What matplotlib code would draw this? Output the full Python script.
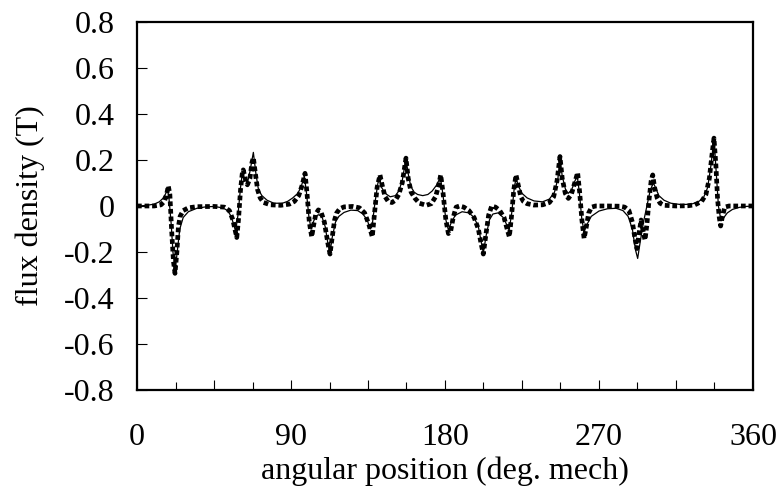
import matplotlib
matplotlib.use('Agg')
import matplotlib.pyplot as plt
from matplotlib.ticker import FixedLocator

plt.rcParams['font.family'] = ['Liberation Serif', 'DejaVu Serif']
plt.rcParams['font.size'] = 23

# thin solid trace (wider tails)
solid_deg = [0, 5, 10, 13, 15, 16.5, 17.5, 18.5, 20, 21, 22.3, 23.5, 25, 27, 30, 35, 40, 45,
             50, 53, 55, 56.5, 57.6, 59, 60.5, 61.5, 63, 64.5, 66, 68, 69.5, 71, 73, 76, 80,
             85, 88, 91, 94, 96, 97.8, 99, 100.5, 101.8, 103, 104.5, 106, 108, 110, 111.5,
             112.8, 114, 116, 118, 121, 125, 129, 132, 134.5, 136.3, 137.5, 139, 140.8, 141.8,
             143, 145, 148, 151, 153, 155, 157.2, 158.5, 160, 162, 164, 167, 170, 172.5, 175,
             177.3, 178.8, 180.5, 182, 183.5, 186, 190, 194, 197, 199.5, 201, 202.4, 204, 206,
             208, 211, 214, 216, 217.5, 219, 220.5, 221.5, 223, 225, 228, 232, 237, 241, 244,
             246, 247.2, 248.5, 250.5, 252, 254, 256, 257.3, 258.5, 260, 261.3, 263, 265.5,
             270, 275, 280, 284, 287, 289.5, 291.3, 292.6, 294, 296, 298, 300, 301.8, 303,
             305, 308, 312, 318, 324, 328, 331, 333.5, 335.5, 337.2, 338.5, 339.8, 341.3, 343,
             345, 348, 352, 356, 360]
solid_b = [0, 0.002, 0.008, 0.018, 0.032, 0.05, 0.065, 0.05, -0.08, -0.2, -0.28, -0.2, -0.1,
           -0.05, -0.025, -0.01, -0.004, -0.002,
           -0.008, -0.02, -0.045, -0.08, -0.11, -0.04, 0.08, 0.14, 0.12, 0.10, 0.15, 0.233,
           0.14, 0.07, 0.045, 0.025, 0.012,
           0.012, 0.02, 0.035, 0.055, 0.085, 0.13, 0.06, -0.05, -0.10, -0.07, -0.045, -0.038,
           -0.045, -0.09, -0.16,
           -0.205, -0.14, -0.07, -0.045, -0.028, -0.018, -0.02, -0.035, -0.06, -0.10, -0.08,
           0.01, 0.10, 0.12,
           0.08, 0.055, 0.04, 0.045, 0.065, 0.11, 0.205, 0.14, 0.085, 0.06, 0.05, 0.045, 0.05,
           0.065, 0.09,
           0.125, 0.05, -0.06, -0.105, -0.075, -0.04, -0.025, -0.03, -0.05, -0.09, -0.15,
           -0.205, -0.13, -0.06,
           -0.035, -0.03, -0.05, -0.08, -0.105, -0.03, 0.08, 0.12, 0.085, 0.055, 0.035, 0.022,
           0.018, 0.03, 0.06,
           0.12, 0.21, 0.13, 0.07, 0.055, 0.07, 0.11, 0.13, 0.06, -0.06, -0.11, -0.08, -0.045,
           -0.022, -0.012, -0.01, -0.02, -0.045, -0.1, -0.19, -0.228, -0.16, -0.07, 0.0, 0.07,
           0.10, 0.08,
           0.045, 0.025, 0.012, 0.006, 0.008, 0.018, 0.035, 0.08, 0.18, 0.295, 0.15, 0.0,
           -0.065, -0.05,
           -0.03, -0.015, -0.006, -0.002, 0]

# thick dotted trace (narrower tails)
dot_deg = [0, 10, 14, 16, 17.3, 18.3, 19.2, 20.2, 21.3, 22.2, 23.3, 24.2, 25.2, 27, 30, 35, 45,
           51, 54, 56, 57.5, 58.3, 59.3, 60.5, 61.5, 62.1, 63.2, 64.5, 66, 67.2, 68, 69.2, 70.5,
           72, 74, 78, 84, 89, 92, 94.5, 96.5, 98.2, 99.3, 100.7, 102.1, 103.3, 104.5, 106,
           107.5, 109.5, 111.5, 112.8, 114, 115.5, 116.7, 118.5, 121, 126, 130, 133, 135.5,
           137.5, 138.7, 140.3, 142, 143.3, 145, 146.9, 149, 151, 153, 155, 157.2, 158.5, 160.2,
           162.5, 165, 169, 172, 174.5, 176.3, 177.5, 178.8, 180.5, 182, 183.3, 184.8, 186.5,
           188.5, 191, 194, 197, 199.5, 201, 202.4, 203.8, 205.5, 207.3, 209.5, 212, 214.5,
           216.3, 217.6, 218.8, 220.2, 221.5, 222.8, 224.3, 225.8, 228, 232, 237, 241, 243.5,
           245.5, 247.2, 248.5, 250.3, 252.1, 253.8, 255.8, 257.5, 258.7, 260, 261.3, 262.6,
           264, 265.7, 268, 275, 282, 285, 287.5, 289.5, 291, 292.2, 293.4, 294.6, 295.8,
           296.9, 298, 299.3, 300.5, 301.4, 302.5, 304, 305.7, 308, 315, 322, 326, 330, 332.5,
           334.5, 336, 337.2, 338.3, 339.3, 340.3, 341.1, 342, 343.5, 346, 360]
dot_b = [0, 0.0, 0.005, 0.02, 0.05, 0.087, 0.05, -0.1, -0.24, -0.293, -0.2, -0.09, -0.045,
         -0.02, -0.008, -0.003, -0.002,
         -0.005, -0.02, -0.06, -0.11, -0.137, -0.06, 0.07, 0.14, 0.157, 0.12, 0.092, 0.12, 0.19,
         0.21, 0.14, 0.07,
         0.035, 0.015, 0.005, 0.003, 0.008, 0.02, 0.045, 0.09, 0.142, 0.06, -0.07, -0.134,
         -0.08, -0.035, -0.017,
         -0.025, -0.07, -0.16, -0.209, -0.14, -0.06, -0.03, -0.012, -0.004, -0.002, -0.008,
         -0.03, -0.08,
         -0.134, -0.04, 0.08, 0.135, 0.09, 0.04, 0.019, 0.015, 0.025, 0.05, 0.1, 0.208, 0.12,
         0.06,
         0.033, 0.012, 0.003, 0.01, 0.04, 0.09, 0.135, 0.06, -0.06, -0.12, -0.11, -0.05,
         -0.005,
         0.0, -0.005, -0.02, -0.05, -0.1, -0.16, -0.209, -0.13, -0.04, 0.0, -0.005, -0.02,
         -0.05,
         -0.1, -0.134, -0.05, 0.07, 0.135, 0.09, 0.04, 0.02, 0.01, 0.004, 0.005, 0.015, 0.04,
         0.11, 0.215, 0.12, 0.055, 0.033, 0.05, 0.1, 0.145, 0.06, -0.06, -0.141, -0.09,
         -0.03, -0.005, 0.0, 0.0, -0.001, -0.005, -0.02, -0.07, -0.14, -0.185, -0.12, -0.061,
         -0.11,
         -0.148, -0.08, 0.03, 0.11, 0.135, 0.08, 0.035, 0.012, 0.003, 0.0, 0.001, 0.005, 0.02,
         0.05,
         0.12, 0.22, 0.295, 0.18, 0.03, -0.05, -0.087, -0.05, -0.005, 0.0, 0]

x_ticks = [0, 45, 90, 135, 180, 225, 270, 315, 360]
x_labels = ['0', '', '90', '', '180', '', '270', '', '360']
x_minor = [22.5, 67.5, 112.5, 157.5, 202.5, 247.5, 292.5, 337.5]
y_ticks = [-0.8, -0.6, -0.4, -0.2, 0, 0.2, 0.4, 0.6, 0.8]
y_labels = ['-0.8', '-0.6', '-0.4', '-0.2', '0', '0.2', '0.4', '0.6', '0.8']

fig = plt.figure(figsize=(7.82, 4.97), dpi=100)
ax = fig.add_axes([0.1752, 0.2153, 0.7877, 0.7405])

ax.plot(solid_deg, solid_b, color='black', lw=0.9)
ax.plot(dot_deg, dot_b, color='black', lw=3.4, linestyle=(0, (1.0, 0.6)))

ax.set_xticks(x_ticks, x_labels)
ax.xaxis.set_minor_locator(FixedLocator(x_minor))
ax.set_yticks(y_ticks, y_labels)
ax.set_xlim(0, 360)
ax.set_ylim(-0.8, 0.8)

ax.tick_params(axis='x', which='major', direction='in', length=7.5, width=0.8, pad=24)
ax.tick_params(axis='x', which='minor', direction='in', length=5.5, width=0.8)
ax.tick_params(axis='y', direction='in', length=7, width=0.8, pad=16)

for s in ax.spines.values():
    s.set_linewidth(1.6)

ax.set_xlabel('angular position (deg. mech)', va='center')
ax.xaxis.set_label_coords(0.5, -0.22)
ax.set_ylabel('flux density (T)', va='center')
ax.yaxis.set_label_coords(-0.174, 0.5)

fig.savefig('out.png', dpi=100)
